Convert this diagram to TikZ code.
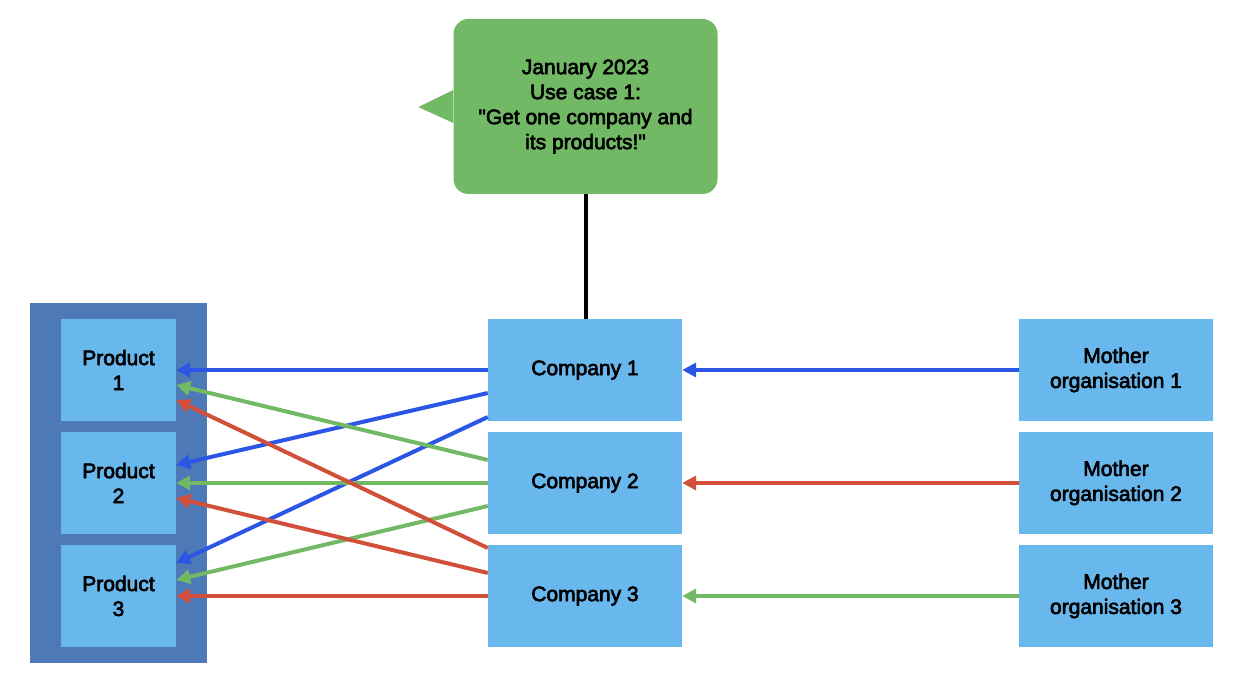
\documentclass[tikz,border=0pt]{standalone}
\usepackage{fontspec}
\newfontfamily\diagramfont{Liberation Sans}[FakeBold=3]
\usetikzlibrary{positioning,arrows.meta}
\definecolor{groupblue}{RGB}{77,122,182}
\definecolor{boxblue}{RGB}{104,184,238}
\definecolor{notegreen}{RGB}{114,185,101}
\definecolor{linkblue}{RGB}{42,85,229}
\definecolor{linkred}{RGB}{210,80,58}
\definecolor{linkgreen}{RGB}{114,185,101}

\begin{document}
\begin{tikzpicture}[x=1pt,y=-1pt,
    label text/.style={font=\diagramfont\fontsize{21}{25}\selectfont, align=center, inner sep=0pt},
    productbox/.style={label text, fill=boxblue, minimum width=115pt, minimum height=102pt},
    entitybox/.style={label text, fill=boxblue, minimum width=194pt, minimum height=102pt},
    link/.style={line width=4pt, -{Triangle[length=14pt,width=14pt]}},
    bluelink/.style={link, draw=linkblue},
    greenlink/.style={link, draw=linkgreen},
    redlink/.style={link, draw=linkred}]
    \useasboundingbox (0,0) rectangle (1235,690);
    \node[fill=groupblue, minimum width=177pt, minimum height=360pt, inner sep=0pt] (productgroup) at (118.5,483) {};
    \node[productbox] (p1) at (118.5,370) {Product\\1};
    \node[productbox] (p2) at (118.5,483) {Product\\2};
    \node[productbox] (p3) at (118.5,596) {Product\\3};
    \node[entitybox] (c1) at (585,370) {Company 1};
    \node[entitybox] (c2) at (585,483) {Company 2};
    \node[entitybox] (c3) at (585,596) {Company 3};
    \node[entitybox] (m1) at (1116,370) {Mother\\organisation 1};
    \node[entitybox] (m2) at (1116,483) {Mother\\organisation 2};
    \node[entitybox] (m3) at (1116,596) {Mother\\organisation 3};
    \node[label text, fill=notegreen, rounded corners=15pt, minimum width=264pt, minimum height=175pt] (note) at (585.5,106.5) {January 2023\\Use case 1:\\"Get one company and\\its products!"};
    \fill[notegreen] ([yshift=16.5pt]note.west) -- ++(-35,17) -- ([yshift=-16.5pt]note.west) -- cycle;
    \draw[line width=4pt] (note.south) -- (note.south |- c1.north);
    \draw[bluelink] (c1.west) -- (p1.east);
    \draw[bluelink] ([yshift=-23pt]c1.west) -- ([yshift=18pt]p2.east);
    \draw[bluelink] ([yshift=-47pt]c1.west) -- ([yshift=33pt]p3.east);
    \draw[greenlink] ([yshift=23pt]c2.west) -- ([yshift=-15pt]p1.east);
    \draw[greenlink] (c2.west) -- (p2.east);
    \draw[greenlink] ([yshift=-23pt]c2.west) -- ([yshift=16pt]p3.east);
    \draw[redlink] ([yshift=48pt]c3.west) -- ([yshift=-30pt]p1.east);
    \draw[redlink] ([yshift=23pt]c3.west) -- ([yshift=-15pt]p2.east);
    \draw[redlink] (c3.west) -- (p3.east);
    \draw[bluelink] (m1.west) -- (c1.east);
    \draw[redlink] (m2.west) -- (c2.east);
    \draw[greenlink] (m3.west) -- (c3.east);
\end{tikzpicture}
\end{document}
